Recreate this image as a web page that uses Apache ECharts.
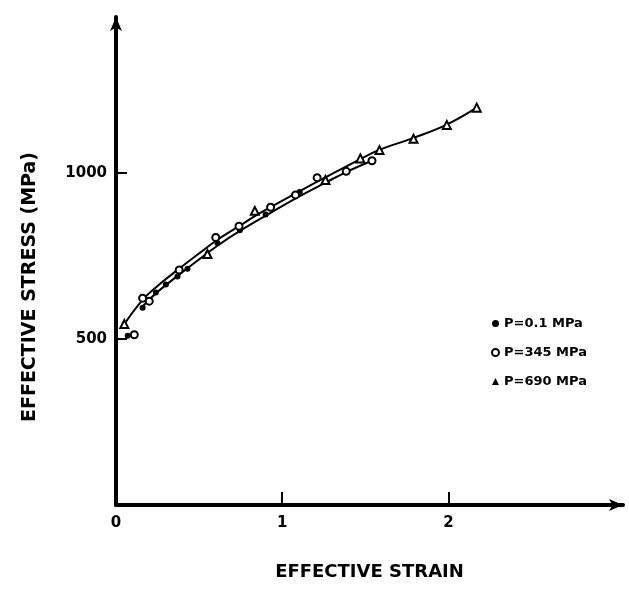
<!DOCTYPE html>
<html>
<head>
<meta charset="utf-8">
<script src="https://cdn.jsdelivr.net/npm/echarts@6/dist/echarts.min.js"></script>
<style>
html,body{margin:0;padding:0;background:#fff;}
#chart{width:629px;height:592px;}
</style>
</head>
<body>
<div id="chart"></div>
<script>
// Data (effective strain, effective stress MPa)
const seriesNames = ['P=0.1 MPa', 'P=345 MPa', 'P=690 MPa'];
const p01Points = [[0.07,510],[0.16,594],[0.24,640],[0.30,664],[0.37,688],[0.43,712],[0.55,752],[0.61,789],[0.745,828],[0.90,875],[1.105,943]];
const p345Points = [[0.11,513],[0.16,623],[0.20,614],[0.38,708],[0.60,806],[0.74,840],[0.93,897],[1.08,934],[1.21,986],[1.385,1005],[1.54,1037]];
const p690Points = [[0.05,545],[0.55,756],[0.835,886],[1.26,979],[1.47,1044],[1.585,1069],[1.79,1103],[1.99,1145],[2.17,1197]];
// hand-drawn fitted curves
const upperCurve = [[0.05,545],[0.16,618],[0.25,660],[0.38,712],[0.5,758],[0.61,799],[0.75,843],[0.835,870],[0.93,897],[1.1,944],[1.26,987],[1.47,1042],[1.58,1069],[1.79,1106],[1.99,1146],[2.17,1197]];
const lowerCurve = [[0.16,598],[0.25,642],[0.38,694],[0.5,740],[0.61,781],[0.75,827],[0.93,880],[1.1,929],[1.26,971],[1.385,1003],[1.54,1037]];
const xTickValues = [1, 2];
const xLabelValues = [0, 1, 2];
const yTickValues = [500, 1000];
const xTitle = 'EFFECTIVE STRAIN';
const yTitle = 'EFFECTIVE STRESS (MPa)';

const FONT = 'DejaVu Sans';
const chart = echarts.init(document.getElementById('chart'), null, {renderer: 'canvas'});
chart.setOption({
  backgroundColor: '#fff',
  animation: false,
  grid: {left: 116, right: 6, top: 17, bottom: 87, containLabel: false},
  legend: {
    orient: 'vertical',
    left: 486,
    top: 312,
    itemWidth: 7,
    itemHeight: 7,
    itemGap: 16,
    textStyle: {fontFamily: FONT, fontWeight: 'bold', fontSize: 13, color: '#000'},
    data: [
      {name: seriesNames[0], icon: 'circle'},
      {name: seriesNames[1], icon: 'emptyCircle'},
      {name: seriesNames[2], icon: 'triangle'}
    ]
  },
  xAxis: {
    type: 'value', min: 0, max: 3.05,
    axisLine: {show: true, lineStyle: {color: '#000', width: 4}, symbol: ['none', 'arrow'], symbolSize: [9, 14]},
    axisTick: {show: true, inside: true, length: 13, lineStyle: {color: '#000', width: 2}, customValues: xTickValues},
    axisLabel: {customValues: xLabelValues, margin: 11, fontFamily: FONT, fontWeight: 'bold', fontSize: 15, color: '#000'},
    splitLine: {show: false},
    name: xTitle, nameLocation: 'middle', nameGap: 58,
    nameTextStyle: {fontFamily: FONT, fontWeight: 'bold', fontSize: 18, color: '#000'}
  },
  yAxis: {
    type: 'value', min: 0, max: 1470,
    axisLine: {show: true, lineStyle: {color: '#000', width: 4}, symbol: ['none', 'arrow'], symbolSize: [9, 14]},
    axisTick: {show: true, inside: true, length: 11, lineStyle: {color: '#000', width: 2}, customValues: yTickValues},
    axisLabel: {customValues: yTickValues, formatter: function (v) { return String(v); }, margin: 9, fontFamily: FONT, fontWeight: 'bold', fontSize: 15, color: '#000'},
    splitLine: {show: false}
  },
  graphic: [{
    type: 'text', x: 30, y: 287, rotation: Math.PI / 2,
    style: {text: yTitle, fontFamily: FONT, fontWeight: 'bold', fontSize: 19, fill: '#000', align: 'center', verticalAlign: 'middle'}
  }],
  series: [
    {type: 'line', name: 'upper', data: upperCurve, smooth: 0.4, symbol: 'none', lineStyle: {color: '#000', width: 2}, z: 1, silent: true},
    {type: 'line', name: 'lower', data: lowerCurve, smooth: 0.4, symbol: 'none', lineStyle: {color: '#000', width: 2}, z: 1, silent: true},
    {type: 'scatter', name: seriesNames[0], data: p01Points, symbol: 'circle', symbolSize: 6, itemStyle: {color: '#000', opacity: 1}, z: 3},
    {type: 'scatter', name: seriesNames[1], data: p345Points, symbol: 'emptyCircle', symbolSize: 7, itemStyle: {color: '#000', borderWidth: 1.5, opacity: 1}, z: 4},
    {type: 'scatter', name: seriesNames[2], data: p690Points, symbol: 'emptyTriangle', symbolSize: 8, itemStyle: {color: '#000', borderWidth: 1.5, opacity: 1}, z: 4}
  ]
});
</script>
</body>
</html>
